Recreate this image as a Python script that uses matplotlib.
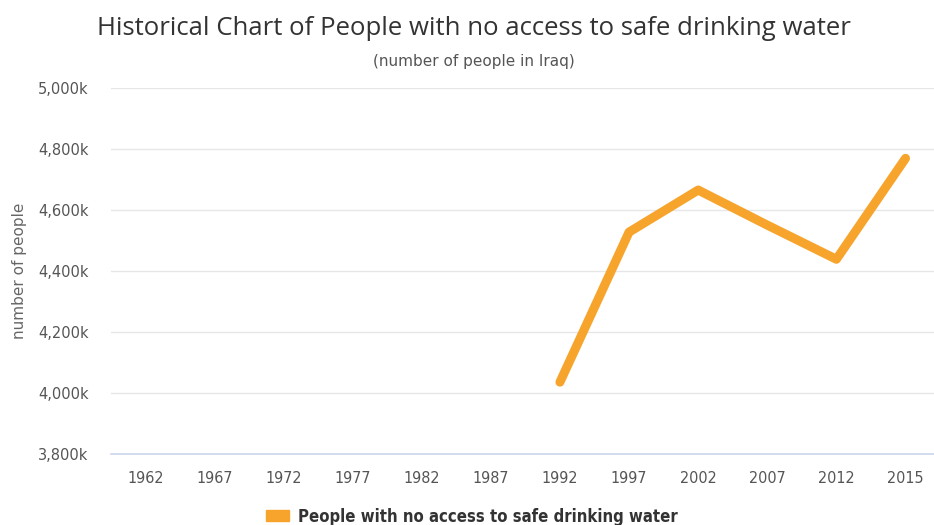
import matplotlib.pyplot as plt
from matplotlib.patches import Patch
from matplotlib.ticker import FuncFormatter

years = ["1962", "1967", "1972", "1977", "1982", "1987", "1992", "1997", "2002", "2007", "2012", "2015"]
# values in thousands, only available from 1992 on
data_years = ["1992", "1997", "2002", "2007", "2012", "2015"]
people_k = [4036, 4528, 4666, 4551, 4439, 4770]
y_ticks = [3800, 4000, 4200, 4400, 4600, 4800, 5000]

orange = "#f7a42c"

fig = plt.figure(figsize=(9.34, 5.25), dpi=100)
ax = fig.add_axes([0.1185, 0.135, 0.888, 0.697])

xpos = [years.index(y) for y in data_years]
ax.plot(xpos, people_k, color=orange, lw=6.5, solid_capstyle="round", solid_joinstyle="round")

ax.set_xlim(-0.5, len(years) - 0.5)
ax.set_ylim(3800, 5000)
ax.set_xticks(range(len(years)))
ax.set_xticklabels(years, family="DejaVu Sans", stretch="condensed", fontsize=11.5, color="#555555")
ax.set_yticks(y_ticks)
ax.yaxis.set_major_formatter(FuncFormatter(lambda v, p: f"{int(v):,}k"))
for lab in ax.get_yticklabels():
    lab.set_fontsize(10.5)
    lab.set_color("#555555")
ax.tick_params(axis="both", length=0)
ax.tick_params(axis="x", pad=12)
ax.tick_params(axis="y", pad=16)
ax.grid(axis="y", color="#e6e6e6", lw=1)
ax.set_axisbelow(True)
for s in ["top", "right", "left"]:
    ax.spines[s].set_visible(False)
ax.spines["bottom"].set_color("#ccd6eb")
ax.spines["bottom"].set_linewidth(1.2)
ax.set_ylabel("number of people", fontsize=11, color="#666666", labelpad=8)

fig.text(0.507, 0.945, "Historical Chart of People with no access to safe drinking water",
         ha="center", va="center", fontsize=18.5, color="#333333", family="Open Sans")
fig.text(0.507, 0.882, "(number of people in Iraq)", ha="center", va="center", fontsize=11, color="#555555")

leg = fig.legend(handles=[Patch(color=orange, label="People with no access to safe drinking water")],
                 loc="center", bbox_to_anchor=(0.505, 0.016), frameon=False, handlelength=1.4, handleheight=0.6,
                 handletextpad=0.5,
                 prop={"family": "DejaVu Sans", "stretch": "condensed", "weight": "bold", "size": 12})
for t in leg.get_texts():
    t.set_color("#333333")

fig.savefig("out.png", dpi=100)
